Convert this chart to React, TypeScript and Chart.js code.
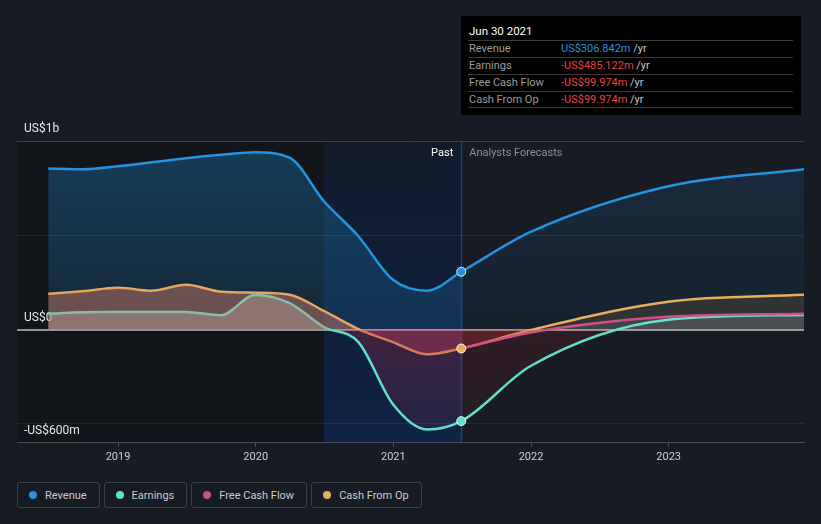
import React, { useEffect, useRef } from 'react';
import { Chart, registerables } from 'chart.js';

Chart.register(...registerables);

// ---------- data ----------
const periodDates = [
  '2018-06-30', '2018-09-30', '2018-12-31', '2019-03-31', '2019-06-30', '2019-09-30',
  '2019-12-31', '2020-03-31', '2020-06-30', '2020-09-30', '2020-12-31', '2021-03-31',
  '2021-06-30', '2021-12-31', '2022-12-31', '2023-12-31',
];
const revenue = [854, 850, 866, 887, 909, 927, 940, 912, 682, 495, 264, 206, 306.842, 518, 760, 851];
const earnings = [84, 92, 93, 94, 94, 76, 184, 141, 14, -66, -396, -529, -485.122, -193, 52, 78];
const cashFromOp = [190, 203, 222, 206, 238, 201, 196, 185, 99, 3, -66, -131, -99.974, -2, 148, 185];
const freeCashFlow = [190, 203, 222, 206, 238, 201, 196, 185, 99, 3, -66, -131, -99.974, -15, 68, 85];

const yearTicks = [2019, 2020, 2021, 2022, 2023];
const yTicks = [-600, -500, 0, 500, 1000];
const yTickLabels: Record<string, string> = { '1000': 'US$1b', '0': 'US$0', '-600': '-US$600m' };
const axisStart = 2018.266;
const axisEnd = 2023.983;
const yMin = -600;
const yMax = 1000;
const highlightStart = '2020-06-30';
const pastEnd = '2021-06-30';

const tooltipTitle = 'Jun 30 2021';
const tooltipRows = [
  { label: 'Revenue', value: 'US$306.842m', color: '#2394df' },
  { label: 'Earnings', value: '-US$485.122m', color: '#ea4040' },
  { label: 'Free Cash Flow', value: '-US$99.974m', color: '#ea4040' },
  { label: 'Cash From Op', value: '-US$99.974m', color: '#ea4040' },
];
const legendItems = [
  { label: 'Revenue', color: '#2394df' },
  { label: 'Earnings', color: '#62e3cf' },
  { label: 'Free Cash Flow', color: '#c8508a' },
  { label: 'Cash From Op', color: '#e8ad5c' },
];

// ---------- helpers ----------
const BG = '#161b24';
const C_REV = '#2394df';
const C_EARN = '#5fe0c9';
const C_FCF = '#cf4f8b';
const C_CFO = '#e9ad5c';

function toYear(d: string): number {
  const [y, m, day] = d.split('-').map(Number);
  const t = Date.UTC(y, m - 1, day);
  const s = Date.UTC(y, 0, 1);
  const e = Date.UTC(y + 1, 0, 1);
  return y + (t - s) / (e - s);
}
const pastEndX = toYear(pastEnd);
const pastIndex = periodDates.indexOf(pastEnd);
const toPoints = (vals: number[]) => periodDates.map((d, i) => ({ x: toYear(d), y: vals[i] }));

type Stops = { aTop: string; aZero: string; bZero: string; bBottom: string };
const fillStyles: Record<string, { past: Stops; fc: Stops }> = {
  revenue: {
    past: { aTop: 'rgba(35,148,223,0.32)', aZero: 'rgba(35,148,223,0.15)', bZero: 'rgba(0,0,0,0)', bBottom: 'rgba(0,0,0,0)' },
    fc: { aTop: 'rgba(35,148,223,0.14)', aZero: 'rgba(35,148,223,0.05)', bZero: 'rgba(0,0,0,0)', bBottom: 'rgba(0,0,0,0)' },
  },
  cfo: {
    past: { aTop: 'rgba(233,174,91,0.12)', aZero: 'rgba(233,174,91,0.12)', bZero: 'rgba(0,0,0,0)', bBottom: 'rgba(0,0,0,0)' },
    fc: { aTop: 'rgba(233,174,91,0.12)', aZero: 'rgba(233,174,91,0.12)', bZero: 'rgba(220,50,60,0.13)', bBottom: 'rgba(220,50,60,0.05)' },
  },
  fcf: {
    past: { aTop: 'rgba(222,121,110,0.35)', aZero: 'rgba(222,121,110,0.35)', bZero: 'rgba(218,67,99,0.32)', bBottom: 'rgba(218,67,99,0.15)' },
    fc: { aTop: 'rgba(210,220,240,0.1)', aZero: 'rgba(210,220,240,0.1)', bZero: 'rgba(220,50,60,0.13)', bBottom: 'rgba(220,50,60,0.05)' },
  },
  earnings: {
    past: { aTop: 'rgba(150,170,160,0.5)', aZero: 'rgba(150,170,160,0.5)', bZero: 'rgba(165,40,72,0.32)', bBottom: 'rgba(165,40,72,0.12)' },
    fc: { aTop: 'rgba(220,225,230,0.07)', aZero: 'rgba(220,225,230,0.07)', bZero: 'rgba(180,40,45,0.17)', bBottom: 'rgba(180,40,45,0.07)' },
  },
};

const gradCache = new Map<string, CanvasGradient>();
function segFill(name: string) {
  return (ctx: any) => {
    const chart = ctx.chart;
    const area = chart.chartArea;
    if (!area) return 'rgba(0,0,0,0)';
    const isFc = ctx.p0.parsed.x >= pastEndX - 1e-9;
    const st = isFc ? fillStyles[name].fc : fillStyles[name].past;
    const zy = chart.scales.y.getPixelForValue(0);
    const key = `${name}|${isFc}|${area.top}|${area.bottom}|${zy}`;
    let g = gradCache.get(key);
    if (!g) {
      g = chart.ctx.createLinearGradient(0, area.top, 0, area.bottom) as CanvasGradient;
      const f = Math.min(1, Math.max(0, (zy - area.top) / (area.bottom - area.top)));
      g.addColorStop(0, st.aTop);
      g.addColorStop(f, st.aZero);
      g.addColorStop(f, st.bZero);
      g.addColorStop(1, st.bBottom);
      gradCache.set(key, g);
    }
    return g;
  };
}

const markerRadius = (c: any) => (c.dataIndex === pastIndex ? 4.5 : 0);

const regionPlugin = {
  id: 'regions',
  beforeDraw(chart: any) {
    const { ctx, chartArea: a, scales } = chart;
    const x = scales.x;
    const hx = x.getPixelForValue(toYear(highlightStart));
    const px = x.getPixelForValue(pastEndX);
    ctx.save();
    ctx.fillStyle = '#111419';
    ctx.fillRect(a.left, a.top, px - a.left, a.bottom - a.top);
    const g = ctx.createLinearGradient(0, a.top, 0, a.bottom);
    g.addColorStop(0, 'rgba(10,90,220,0.09)');
    g.addColorStop(1, 'rgba(10,90,220,0.22)');
    ctx.fillStyle = g;
    ctx.fillRect(hx, a.top, px - hx, a.bottom - a.top);
    ctx.fillStyle = 'rgba(40,95,170,0.6)';
    ctx.fillRect(px - 0.5, a.top, 1.5, a.bottom - a.top);
    ctx.restore();
  },
  afterDatasetsDraw(chart: any) {
    const { ctx, chartArea: a, scales } = chart;
    const px = scales.x.getPixelForValue(pastEndX);
    ctx.save();
    ctx.font = '11px Roboto, sans-serif';
    ctx.textBaseline = 'middle';
    ctx.textAlign = 'right';
    ctx.fillStyle = '#ffffff';
    ctx.fillText('Past', px - 8, a.top + 12);
    ctx.textAlign = 'left';
    ctx.fillStyle = '#8b9099';
    ctx.fillText('Analysts Forecasts', px + 8, a.top + 12);
    ctx.restore();
  },
};

export default function App() {
  const ref = useRef<HTMLCanvasElement>(null);
  useEffect(() => {
    if (!ref.current) return;
    Chart.defaults.font.family = 'Roboto, sans-serif';
    const common = {
      fill: 'origin',
      cubicInterpolationMode: 'monotone' as const,
      borderWidth: 2.5,
      pointHoverRadius: 0,
      pointBorderColor: 'rgba(255,255,255,0.85)',
      pointBorderWidth: 1,
    };
    const chart = new Chart(ref.current, {
      type: 'line',
      data: {
        datasets: [
          {
            ...common,
            label: 'Free Cash Flow',
            data: toPoints(freeCashFlow),
            borderColor: C_FCF,
            pointRadius: markerRadius,
            pointBackgroundColor: C_CFO,
            segment: {
              backgroundColor: segFill('fcf'),
              borderColor: (c: any) => (c.p0.parsed.x >= pastEndX - 1e-9 ? C_FCF : 'rgba(0,0,0,0)'),
            },
          },
          {
            ...common,
            label: 'Earnings',
            data: toPoints(earnings),
            borderColor: C_EARN,
            pointRadius: markerRadius,
            pointBackgroundColor: C_EARN,
            segment: { backgroundColor: segFill('earnings') },
          },
          {
            ...common,
            label: 'Cash From Op',
            data: toPoints(cashFromOp),
            borderColor: C_CFO,
            pointRadius: 0,
            segment: { backgroundColor: segFill('cfo') },
          },
          {
            ...common,
            label: 'Revenue',
            data: toPoints(revenue),
            borderColor: C_REV,
            pointRadius: markerRadius,
            pointBackgroundColor: C_REV,
            segment: { backgroundColor: segFill('revenue') },
          },
        ] as any,
      },
      options: {
        responsive: false,
        animation: false,
        devicePixelRatio: 1,
        layout: { padding: { left: 3, right: 17, top: 141, bottom: 2 } },
        plugins: {
          legend: { display: false },
          tooltip: { enabled: false },
          filler: { drawTime: 'beforeDatasetDraw', propagate: false },
        } as any,
        scales: {
          x: {
            type: 'linear',
            min: axisStart,
            max: axisEnd,
            afterBuildTicks: (s: any) => {
              s.ticks = yearTicks.map((v) => ({ value: v }));
            },
            grid: { drawOnChartArea: false, drawTicks: true, tickLength: 4, color: '#4a4f58' },
            border: { display: true, color: '#4a4f58', width: 1 },
            ticks: {
              color: '#d0d0d0',
              font: { size: 11, family: 'Roboto, sans-serif' },
              padding: 4,
              maxRotation: 0,
              autoSkip: false,
              callback: (v: any) => String(v),
            },
          },
          y: {
            type: 'linear',
            min: yMin,
            max: yMax,
            z: 1,
            afterBuildTicks: (s: any) => {
              s.ticks = yTicks.map((v) => ({ value: v }));
            },
            border: { display: false },
            grid: {
              drawTicks: false,
              color: (c: any) => {
                const v = c.tick && c.tick.value;
                if (v === 0) return 'rgba(200,200,206,0.7)';
                if (v === 1000) return '#3a3f48';
                if (v === -600) return 'rgba(0,0,0,0)';
                return 'rgba(255,255,255,0.07)';
              },
              lineWidth: (c: any) => (c.tick && c.tick.value === 0 ? 2 : 1),
            },
            ticks: {
              mirror: true,
              padding: 7,
              labelOffset: -12,
              color: '#e8e8e8',
              font: { size: 12, family: 'Roboto, sans-serif' },
              callback: (v: any) => yTickLabels[String(v)] ?? '',
            },
          },
        },
      } as any,
      plugins: [regionPlugin],
    });
    return () => chart.destroy();
  }, []);

  return (
    <div
      style={{
        position: 'fixed',
        left: 0,
        top: 0,
        width: 821,
        height: 524,
        background: BG,
        overflow: 'hidden',
        fontFamily: 'Roboto, sans-serif',
      }}
    >
      <canvas ref={ref} width={821} height={470} style={{ position: 'absolute', left: 0, top: 0, width: 821, height: 470 }} />
      <div
        style={{
          position: 'absolute',
          left: 461,
          top: 16,
          width: 340,
          height: 99,
          background: '#000',
          fontSize: 11,
        }}
      >
        <div style={{ position: 'absolute', left: 8, top: 8, lineHeight: '14px', color: '#fff', fontSize: 11.5 }}>{tooltipTitle}</div>
        {tooltipRows.map((r, i) => (
          <div
            key={r.label}
            style={{
              position: 'absolute',
              left: 7,
              top: 24 + i * 17,
              width: 325,
              height: 17,
              borderTop: '1px solid #3a3a3a',
              borderBottom: i === tooltipRows.length - 1 ? '1px solid #3a3a3a' : 'none',
              lineHeight: '16px',
              boxSizing: 'border-box',
            }}
          >
            <span style={{ position: 'absolute', left: 1, color: '#9c9c9c' }}>{r.label}</span>
            <span style={{ position: 'absolute', left: 93, color: r.color, whiteSpace: 'nowrap' }}>
              {r.value}
              <span style={{ color: '#c4c4c4' }}> /yr</span>
            </span>
          </div>
        ))}
      </div>
      <div style={{ position: 'absolute', left: 17, top: 482, display: 'flex', gap: 4 }}>
        {legendItems.map((l) => (
          <div
            key={l.label}
            style={{
              height: 26,
              boxSizing: 'border-box',
              border: '1px solid #3b4049',
              borderRadius: 3,
              display: 'flex',
              alignItems: 'center',
              paddingLeft: 11,
              paddingRight: 12,
              color: '#c9cbcf',
              fontSize: 11,
            }}
          >
            <span
              style={{ width: 8, height: 8, borderRadius: 4, background: l.color, display: 'inline-block', marginRight: 8 }}
            />
            {l.label}
          </div>
        ))}
      </div>
    </div>
  );
}
